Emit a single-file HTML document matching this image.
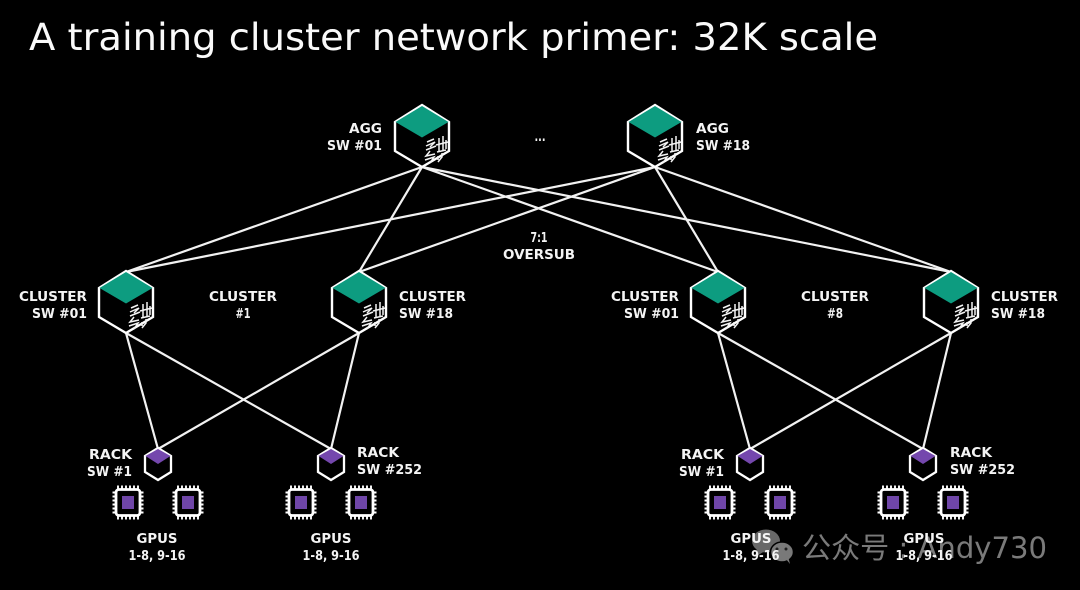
<!DOCTYPE html>
<html>
<head>
<meta charset="utf-8">
<style>
html,body{margin:0;padding:0;background:#000;width:1080px;height:590px;overflow:hidden}
svg{display:block;filter:blur(.35px)}
text{font-family:"DejaVu Sans","Liberation Sans","Noto Sans CJK SC",sans-serif;fill:#fff}
.l{font-size:13px;font-weight:700;fill:#f4f4f4}
.e{text-anchor:end}.m{text-anchor:middle}
</style>
</head>
<body>
<svg width="1080" height="590" viewBox="0 0 1080 590" xmlns="http://www.w3.org/2000/svg">
<defs>
<g id="big">
<polygon points="0,-31 27,-14 27,15 0,31 -27,15 -27,-14" fill="#000" stroke="#fff" stroke-width="2.4"/>
<polygon points="0,-30 26.500,-14 0,1.500 -26.500,-14" fill="#0d9c80"/>
<g fill="none" stroke="#f4f4f4" stroke-width="1.500">
<path d="M5,6L12,3M4,10L13,6L8,11M4,14L14,10M8,15L4,20L13,18M3,24L12,21L8,27"/>
<path d="M17,2V16M21,0V14M24,4V13M14,9L26,6M15,16L24,14M16,20V24M20,17V21L16,26"/>
</g>
</g>
<g id="small">
<polygon points="0,-16 13,-8 13,8 0,16 -13,8 -13,-8" fill="#000" stroke="#fff" stroke-width="2.300"/>
<polygon points="0,-15 12.500,-8 0,0 -12.500,-8" fill="#7447ad"/>
</g>
<g id="chip">
<path d="M-10,-17V-12M-6,-17V-12M-2,-17V-12M2,-17V-12M6,-17V-12M10,-17V-12M-10,12V17M-6,12V17M-2,12V17M2,12V17M6,12V17M10,12V17M-15.500,-10H-11M-15.500,-6H-11M-15.500,-2H-11M-15.500,2H-11M-15.500,6H-11M-15.500,10H-11M11,-10H15.500M11,-6H15.500M11,-2H15.500M11,2H15.500M11,6H15.500M11,10H15.500" stroke="#fff" stroke-width="1.900"/>
<rect x="-12" y="-13" width="24" height="26" rx="3" fill="#000" stroke="#fff" stroke-width="2.800"/>
<rect x="-6" y="-6.500" width="12" height="13" fill="#6f46a8"/>
</g>
</defs>

<rect width="1080" height="590" fill="#000"/>

<text x="29" y="50" font-size="37" textLength="849" lengthAdjust="spacingAndGlyphs" style="fill:#fafafa">A training cluster network primer: 32K scale</text>

<g stroke="#f2f2f2" stroke-width="2.200" fill="none">
<path d="M422,167L126,272M422,167L359,272M422,167L718,272M422,167L951,272"/>
<path d="M655,167L126,272M655,167L359,272M655,167L718,272M655,167L951,272"/>
<path d="M126,333L158,449M126,333L331,449M359,333L158,449M359,333L331,449"/>
<path d="M718,333L750,449M718,333L923,449M951,333L750,449M951,333L923,449"/>
</g>

<use href="#big" x="422" y="136"/>
<use href="#big" x="655" y="136"/>
<use href="#big" x="126" y="302"/>
<use href="#big" x="359" y="302"/>
<use href="#big" x="718" y="302"/>
<use href="#big" x="951" y="302"/>

<use href="#small" x="158" y="464"/>
<use href="#small" x="331" y="464"/>
<use href="#small" x="750" y="464"/>
<use href="#small" x="923" y="464"/>

<use href="#chip" x="128" y="502.500"/>
<use href="#chip" x="188" y="502.500"/>
<use href="#chip" x="301" y="502.500"/>
<use href="#chip" x="361" y="502.500"/>
<use href="#chip" x="720" y="502.500"/>
<use href="#chip" x="780" y="502.500"/>
<use href="#chip" x="893" y="502.500"/>
<use href="#chip" x="953" y="502.500"/>

<!-- watermark -->
<g opacity="0.62">
<ellipse cx="766" cy="541" rx="14" ry="11.500" fill="#a8a8a8"/>
<polygon points="757,549 755,557 765,551" fill="#a8a8a8"/>
<ellipse cx="782" cy="552" rx="11.500" ry="10" fill="#c4c4c4" stroke="#000" stroke-width="1.500"/>
<polygon points="786,559 790,564 788,556" fill="#c4c4c4"/>
<circle cx="777" cy="549" r="1.500" fill="#333"/>
<circle cx="786" cy="549" r="1.500" fill="#333"/>
</g>
<text x="802" y="558" font-size="29" textLength="245" lengthAdjust="spacingAndGlyphs" style="fill:#fff;fill-opacity:.48;font-family:'DejaVu Sans','Noto Sans CJK SC',sans-serif">公众号 : Andy730</text>

<text class="l e" x="382" y="133" textLength="33" lengthAdjust="spacingAndGlyphs">AGG</text>
<text class="l e" x="382" y="150" textLength="55" lengthAdjust="spacingAndGlyphs">SW #01</text>
<text class="l" x="696" y="133" textLength="33" lengthAdjust="spacingAndGlyphs">AGG</text>
<text class="l" x="696" y="150" textLength="54" lengthAdjust="spacingAndGlyphs">SW #18</text>
<text class="l m" x="540" y="141" textLength="11" lengthAdjust="spacingAndGlyphs">...</text>
<text class="l m" x="539" y="242" textLength="17" lengthAdjust="spacingAndGlyphs">7:1</text>
<text class="l m" x="539" y="259" textLength="72" lengthAdjust="spacingAndGlyphs">OVERSUB</text>

<text class="l e" x="87" y="301" textLength="68" lengthAdjust="spacingAndGlyphs">CLUSTER</text>
<text class="l e" x="87" y="318" textLength="55" lengthAdjust="spacingAndGlyphs">SW #01</text>
<text class="l m" x="243" y="301" textLength="68" lengthAdjust="spacingAndGlyphs">CLUSTER</text>
<text class="l m" x="243" y="318" textLength="15" lengthAdjust="spacingAndGlyphs">#1</text>
<text class="l" x="399" y="301" textLength="67" lengthAdjust="spacingAndGlyphs">CLUSTER</text>
<text class="l" x="399" y="318" textLength="54" lengthAdjust="spacingAndGlyphs">SW #18</text>

<text class="l e" x="679" y="301" textLength="68" lengthAdjust="spacingAndGlyphs">CLUSTER</text>
<text class="l e" x="679" y="318" textLength="55" lengthAdjust="spacingAndGlyphs">SW #01</text>
<text class="l m" x="835" y="301" textLength="68" lengthAdjust="spacingAndGlyphs">CLUSTER</text>
<text class="l m" x="835" y="318" textLength="16" lengthAdjust="spacingAndGlyphs">#8</text>
<text class="l" x="991" y="301" textLength="67" lengthAdjust="spacingAndGlyphs">CLUSTER</text>
<text class="l" x="991" y="318" textLength="54" lengthAdjust="spacingAndGlyphs">SW #18</text>

<text class="l e" x="132" y="459" textLength="43" lengthAdjust="spacingAndGlyphs">RACK</text>
<text class="l e" x="132" y="476" textLength="45" lengthAdjust="spacingAndGlyphs">SW #1</text>
<text class="l" x="357" y="457" textLength="42" lengthAdjust="spacingAndGlyphs">RACK</text>
<text class="l" x="357" y="474" textLength="65" lengthAdjust="spacingAndGlyphs">SW #252</text>
<text class="l e" x="724" y="459" textLength="43" lengthAdjust="spacingAndGlyphs">RACK</text>
<text class="l e" x="724" y="476" textLength="45" lengthAdjust="spacingAndGlyphs">SW #1</text>
<text class="l" x="950" y="457" textLength="42" lengthAdjust="spacingAndGlyphs">RACK</text>
<text class="l" x="950" y="474" textLength="65" lengthAdjust="spacingAndGlyphs">SW #252</text>

<text class="l m" x="157" y="543" textLength="41" lengthAdjust="spacingAndGlyphs">GPUS</text>
<text class="l m" x="157" y="560" textLength="57" lengthAdjust="spacingAndGlyphs">1-8, 9-16</text>
<text class="l m" x="331" y="543" textLength="41" lengthAdjust="spacingAndGlyphs">GPUS</text>
<text class="l m" x="331" y="560" textLength="57" lengthAdjust="spacingAndGlyphs">1-8, 9-16</text>
<text class="l m" x="751" y="543" textLength="41" lengthAdjust="spacingAndGlyphs">GPUS</text>
<text class="l m" x="751" y="560" textLength="57" lengthAdjust="spacingAndGlyphs">1-8, 9-16</text>
<text class="l m" x="924" y="543" textLength="41" lengthAdjust="spacingAndGlyphs">GPUS</text>
<text class="l m" x="924" y="560" textLength="57" lengthAdjust="spacingAndGlyphs">1-8, 9-16</text>
</svg>
</body>
</html>
